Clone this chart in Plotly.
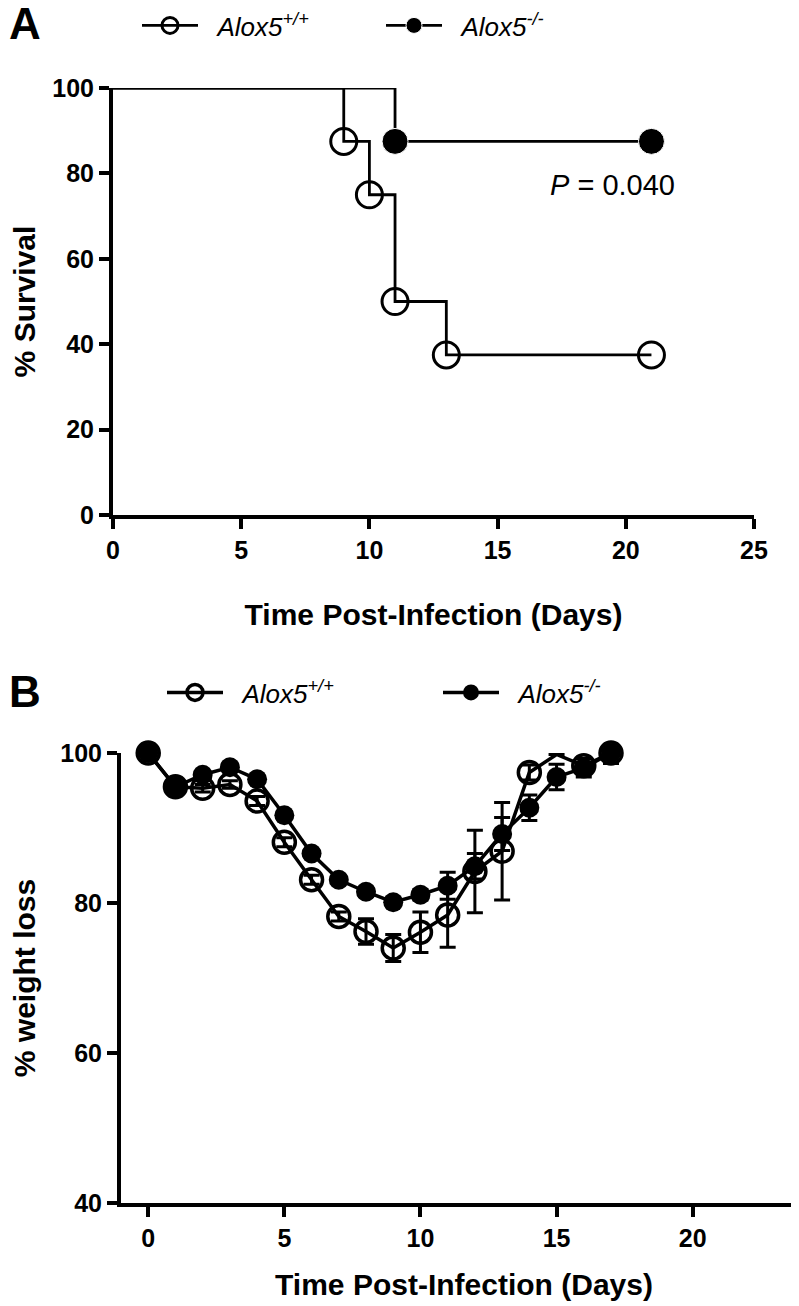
#!/usr/bin/env python3
# -*- coding: utf-8 -*-
"""
Alox5 생존 곡선(A)과 체중 변화(B) 그림
"""

import plotly.graph_objects as go

# 생존 데이터 (A)
wt_days = [0, 9, 10, 11, 13, 21]
wt_survival = [100, 87.5, 75, 50, 37.5, 37.5]
ko_days = [0, 11, 21]
ko_survival = [100, 87.5, 87.5]

# 체중 데이터 (B)
weight_days = list(range(18))
wt_weight = [100, 95.5, 95.3, 95.8, 93.6, 88.1, 83.1, 78.2, 76.2, 74.0,
             76.1, 78.4, 84.2, 86.9, 97.4, 99.8, 98.3, 100]
wt_sem = [0, 0.5, 0.5, 0.5, 0.6, 0.6, 0.6, 0.6, 1.7, 1.8,
          2.7, 4.3, 5.5, 6.5, 1.0, 0, 1.0, 0]
ko_weight = [100, 95.5, 97.1, 98.1, 96.5, 91.7, 86.6, 83.1, 81.5, 80.1,
             81.1, 82.3, 84.9, 89.2, 92.7, 96.8, 98.0, 100]
ko_sem = [0, 0.4, 0.4, 0.4, 0.5, 0.5, 0.5, 0.5, 0.6, 0.6,
          0.7, 1.8, 1.7, 2.2, 1.7, 1.7, 1.2, 1.4]

label_wt = '&nbsp;&nbsp;<i>Alox5<sup>+/+</sup></i>'
label_ko = '&nbsp;&nbsp;<i>Alox5<sup>-/-</sup></i>'
p_text = '<i>P</i> = 0.040'

FONT = 'Liberation Sans, Arial, sans-serif'
W, H = 799, 1306
OFFSET = 8  # 페이지 여백 보정


def px_x(p):
    return (p - OFFSET) / W


def px_y(p):
    return 1 - (p - OFFSET) / H


fig = go.Figure()

# A: 생존 곡선 (계단형)
fig.add_trace(go.Scatter(
    x=wt_days, y=wt_survival, name=label_wt, mode='lines+markers',
    line=dict(color='black', width=2.8, shape='hv'),
    marker=dict(symbol='circle-open', color='black', opacity=1,
                size=[0] + [26] * (len(wt_days) - 1), line=dict(width=3)),
    cliponaxis=False, xaxis='x', yaxis='y', legend='legend'
))
fig.add_trace(go.Scatter(
    x=ko_days, y=ko_survival, name=label_ko, mode='lines+markers',
    line=dict(color='black', width=2.8, shape='hv'),
    marker=dict(symbol='circle', color='black', opacity=1,
                size=[0] + [26] * (len(ko_days) - 1)),
    cliponaxis=False, xaxis='x', yaxis='y', legend='legend'
))

# B: 체중 변화
wt_sizes = [22] * len(weight_days)
wt_sizes[15] = 0
fig.add_trace(go.Scatter(
    x=weight_days, y=wt_weight, name=label_wt, mode='lines+markers',
    line=dict(color='black', width=3.5),
    marker=dict(symbol='circle-open', color='black', size=wt_sizes, opacity=1,
                line=dict(width=3.5)),
    error_y=dict(type='data', array=wt_sem, color='black', thickness=3, width=8),
    cliponaxis=False, xaxis='x2', yaxis='y2', legend='legend2'
))
fig.add_trace(go.Scatter(
    x=weight_days, y=ko_weight, name=label_ko, mode='lines+markers',
    line=dict(color='black', width=3.5),
    marker=dict(symbol='circle', color='black', size=20, opacity=1),
    error_y=dict(type='data', array=ko_sem, color='black', thickness=3, width=8),
    cliponaxis=False, xaxis='x2', yaxis='y2', legend='legend2'
))

axis_common = dict(
    showline=True, linecolor='black', linewidth=4,
    ticks='outside', ticklen=10, tickwidth=4, tickcolor='black',
    showgrid=False, zeroline=False, automargin=False,
    tickfont=dict(family=FONT, size=25, color='black', weight='bold'),
    title_font=dict(family=FONT, size=30, color='black', weight='bold'),
)

fig.update_layout(
    width=W, height=H,
    margin=dict(l=0, r=0, t=0, b=0, autoexpand=False),
    paper_bgcolor='white', plot_bgcolor='white',
    xaxis=dict(domain=[px_x(113), px_x(754)], range=[0, 25],
               tickvals=[0, 5, 10, 15, 20, 25], anchor='y',
               title=dict(text='Time Post-Infection (Days)', standoff=42),
               **axis_common),
    yaxis=dict(domain=[px_y(515), px_y(88)], range=[0, 100],
               tickvals=[0, 20, 40, 60, 80, 100], anchor='x',
               title=dict(text='% Survival', standoff=26),
               **axis_common),
    xaxis2=dict(domain=[px_x(121), px_x(799 + OFFSET)], range=[-1.0, 24.2],
                tickvals=[0, 5, 10, 15, 20], anchor='y2',
                title=dict(text='Time Post-Infection (Days)', standoff=24),
                **axis_common),
    yaxis2=dict(domain=[px_y(1203), px_y(753)], range=[40, 100],
                tickvals=[40, 60, 80, 100], anchor='x2',
                title=dict(text='% weight loss', standoff=43),
                **axis_common),
    legend=dict(orientation='h', x=px_x(137), y=px_y(2),
                xanchor='left', yanchor='top', itemwidth=56,
                entrywidth=173, entrywidthmode='pixels',
                font=dict(family=FONT, size=26, color='black'),
                bgcolor='rgba(0,0,0,0)'),
    legend2=dict(orientation='h', x=px_x(162), y=px_y(669),
                 xanchor='left', yanchor='top', itemwidth=56,
                 entrywidth=205, entrywidthmode='pixels',
                 font=dict(family=FONT, size=26, color='black'),
                 bgcolor='rgba(0,0,0,0)'),
    showlegend=True,
)

# 패널 라벨과 P 값
fig.add_annotation(text='<b>A</b>', x=px_x(25), y=px_y(24), xref='paper', yref='paper',
                   xanchor='center', yanchor='middle', showarrow=False,
                   font=dict(family=FONT, size=44, color='black'))
fig.add_annotation(text='<b>B</b>', x=px_x(25), y=px_y(692), xref='paper', yref='paper',
                   xanchor='center', yanchor='middle', showarrow=False,
                   font=dict(family=FONT, size=44, color='black'))
fig.add_annotation(text=p_text, x=19.5, y=77.3, xref='x', yref='y',
                   showarrow=False, font=dict(family=FONT, size=29, color='black'))

fig.write_html('out.html')
